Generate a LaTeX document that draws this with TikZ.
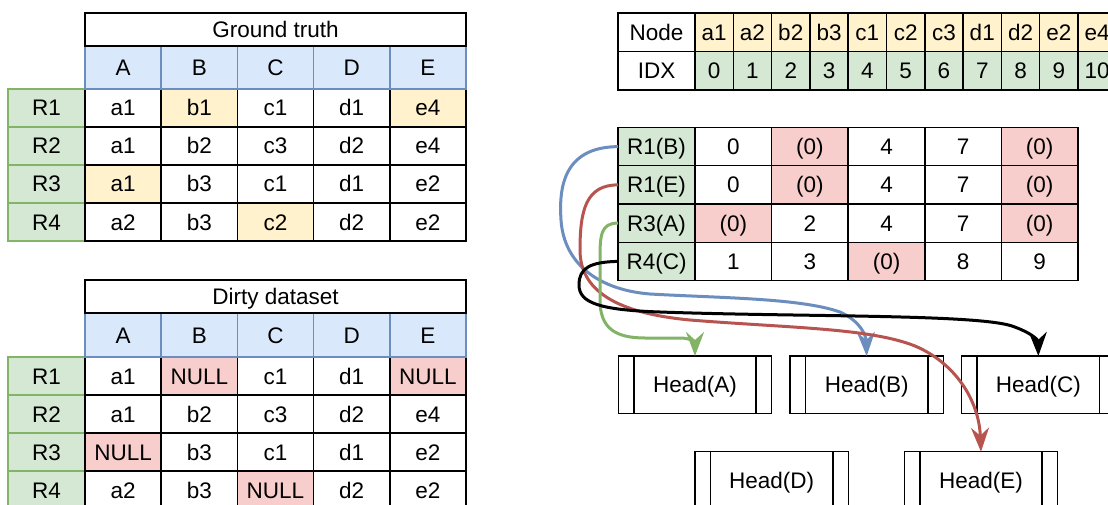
\documentclass[tikz,border=0pt]{standalone}
\usepackage{fontspec}
\setmainfont{Liberation Sans}
\usetikzlibrary{arrows.meta}

\definecolor{bluefill}{HTML}{DAE8FC}
\definecolor{blueline}{HTML}{6C8EBF}
\definecolor{greenfill}{HTML}{D5E8D4}
\definecolor{greenline}{HTML}{82B366}
\definecolor{yellowfill}{HTML}{FFF2CC}
\definecolor{redfill}{HTML}{F8CECC}
\definecolor{redline}{HTML}{B85450}

\tikzset{
  cell/.style={draw=black, line width=1.5pt, rectangle, anchor=north west,
    inner sep=0pt, outer sep=0pt, text height=16pt, text depth=0pt},
  labelcell/.style={cell, draw=greenline, fill=greenfill},
  headcell/.style={cell, draw=blueline, fill=bluefill},
  headbox/.style={cell, minimum width=153.3, minimum height=57.5},
  curvelink/.style={line width=3pt, -{Stealth[length=24pt, width=18pt, inset=8pt]}},
}

\begin{document}
\begin{tikzpicture}[x=1pt, y=-1pt, font=\fontsize{22.5}{27}\selectfont]
    \useasboundingbox (0,0) rectangle (1108,505);
    \clip (0,0) rectangle (1108,505);
    \fill[white] (0,0) rectangle (1108,505);

    \def\labw{77}
    \def\colw{76.2}
    \def\rowh{38}

    % ground truth
    \foreach \r [count=\j] in {R1,R2,R3,R4}
        \node[labelcell, minimum width=\labw, minimum height=\rowh]
            (gt-r\j) at (8,{89+(\j-1)*\rowh}) {\r};
    \foreach \row [count=\j] in {
        {a1/white,b1/yellowfill,c1/white,d1/white,e4/yellowfill},
        {a1/white,b2/white,c3/white,d2/white,e4/white},
        {a1/yellowfill,b3/white,c1/white,d1/white,e2/white},
        {a2/white,b3/white,c2/yellowfill,d2/white,e2/white}}
        \foreach \v/\f [count=\i] in \row
            \node[cell, fill=\f, minimum width=\colw, minimum height=\rowh]
                (gt-\j-\i) at ({85+(\i-1)*\colw},{89+(\j-1)*\rowh}) {\v};
    \foreach \c [count=\i] in {A,B,C,D,E}
        \node[headcell, minimum width=\colw, minimum height=43]
            (gt-h\i) at ({85+(\i-1)*\colw},46) {\c};
    \node[cell, minimum width=381, minimum height=33] (gt) at (85,13) {Ground truth};

    % dirty dataset
    \foreach \r [count=\j] in {R1,R2,R3,R4}
        \node[labelcell, minimum width=\labw, minimum height=\rowh]
            (dd-r\j) at (8,{357+(\j-1)*\rowh}) {\r};
    \foreach \row [count=\j] in {
        {a1/white,NULL/redfill,c1/white,d1/white,NULL/redfill},
        {a1/white,b2/white,c3/white,d2/white,e4/white},
        {NULL/redfill,b3/white,c1/white,d1/white,e2/white},
        {a2/white,b3/white,NULL/redfill,d2/white,e2/white}}
        \foreach \v/\f [count=\i] in \row
            \node[cell, fill=\f, minimum width=\colw, minimum height=\rowh]
                (dd-\j-\i) at ({85+(\i-1)*\colw},{357+(\j-1)*\rowh}) {\v};
    \foreach \c [count=\i] in {A,B,C,D,E}
        \node[headcell, minimum width=\colw, minimum height=44]
            (dd-h\i) at ({85+(\i-1)*\colw},313) {\c};
    \node[cell, minimum width=381, minimum height=33] (dd) at (85,280) {Dirty dataset};

    % node index
    \node[cell, minimum width=\labw, minimum height=38.5] (node-lbl) at (618,13) {Node};
    \node[cell, minimum width=\labw, minimum height=38.5] (idx-lbl) at (618,51.5) {IDX};
    \foreach \v [count=\i from 0] in {a1,a2,b2,b3,c1,c2,c3,d1,d2,e2,e4} {
        \node[cell, fill=yellowfill, minimum width=38.3, minimum height=38.5]
            (node-\i) at ({695+\i*38.3},13) {\v};
        \node[cell, fill=greenfill, minimum width=38.3, minimum height=38.5]
            (idx-\i) at ({695+\i*38.3},51.5) {\i};
    }

    % dirty rows as index vectors
    \foreach \r [count=\j] in {R1(B),R1(E),R3(A),R4(C)}
        \node[cell, fill=greenfill, minimum width=\labw, minimum height=38.25]
            (mt-\j) at (618,{127.5+(\j-1)*38.25}) {\r};
    \foreach \row [count=\j] in {
        {0/white,(0)/redfill,4/white,7/white,(0)/redfill},
        {0/white,(0)/redfill,4/white,7/white,(0)/redfill},
        {(0)/redfill,2/white,4/white,7/white,(0)/redfill},
        {1/white,3/white,(0)/redfill,8/white,9/white}}
        \foreach \v/\f [count=\i] in \row
            \node[cell, fill=\f, minimum width=76.6, minimum height=38.25]
                (mt-\j-\i) at ({695+(\i-1)*76.6},{127.5+(\j-1)*38.25}) {\v};

    % heads
    \foreach \n/\t/\x/\y in {ha/A/618.3/356, hb/B/790/356, hc/C/961.7/356,
                             hd/D/695/451.7, he/E/904.3/451.7} {
        \node[headbox] (\n) at (\x,\y) {Head(\t)};
        \draw[line width=1.5pt] ([xshift=15.5pt]\n.north west) -- ([xshift=15.5pt]\n.south west)
            ([xshift=-15.5pt]\n.north east) -- ([xshift=-15.5pt]\n.south east);
    }

    % links to heads
    \draw[curvelink, blueline] (mt-1.west) .. controls (562,147) and (559,190) .. (561,220)
        .. controls (564,265) and (600,290) .. (650,294)
        .. controls (720,298) and (800,298) .. (840,312)
        .. controls (860,321) and (866,335) .. (hb.north);
    \draw[curvelink, redline] (mt-2.west) .. controls (586,185) and (580,210) .. (580,250)
        .. controls (580,290) and (615,313) .. (690,320)
        .. controls (790,328) and (870,328) .. (915,346)
        .. controls (955,363) and (979,400) .. (he.north);
    \draw[curvelink, greenline] (mt-3.west) .. controls (601,223) and (600,235) .. (600,258)
        -- (600,300) .. controls (600,328) and (615,338) .. (645,338) -- (680,338)
        .. controls (690,338) and (695,342) .. (ha.north);
    \draw[curvelink, black] (mt-4.west) .. controls (590,262) and (579,268) .. (579,285)
        .. controls (579,303) and (600,310) .. (660,312)
        .. controls (800,317) and (975,314) .. (1012,326)
        .. controls (1032,333) and (1038,340) .. (hc.north);
\end{tikzpicture}
\end{document}
